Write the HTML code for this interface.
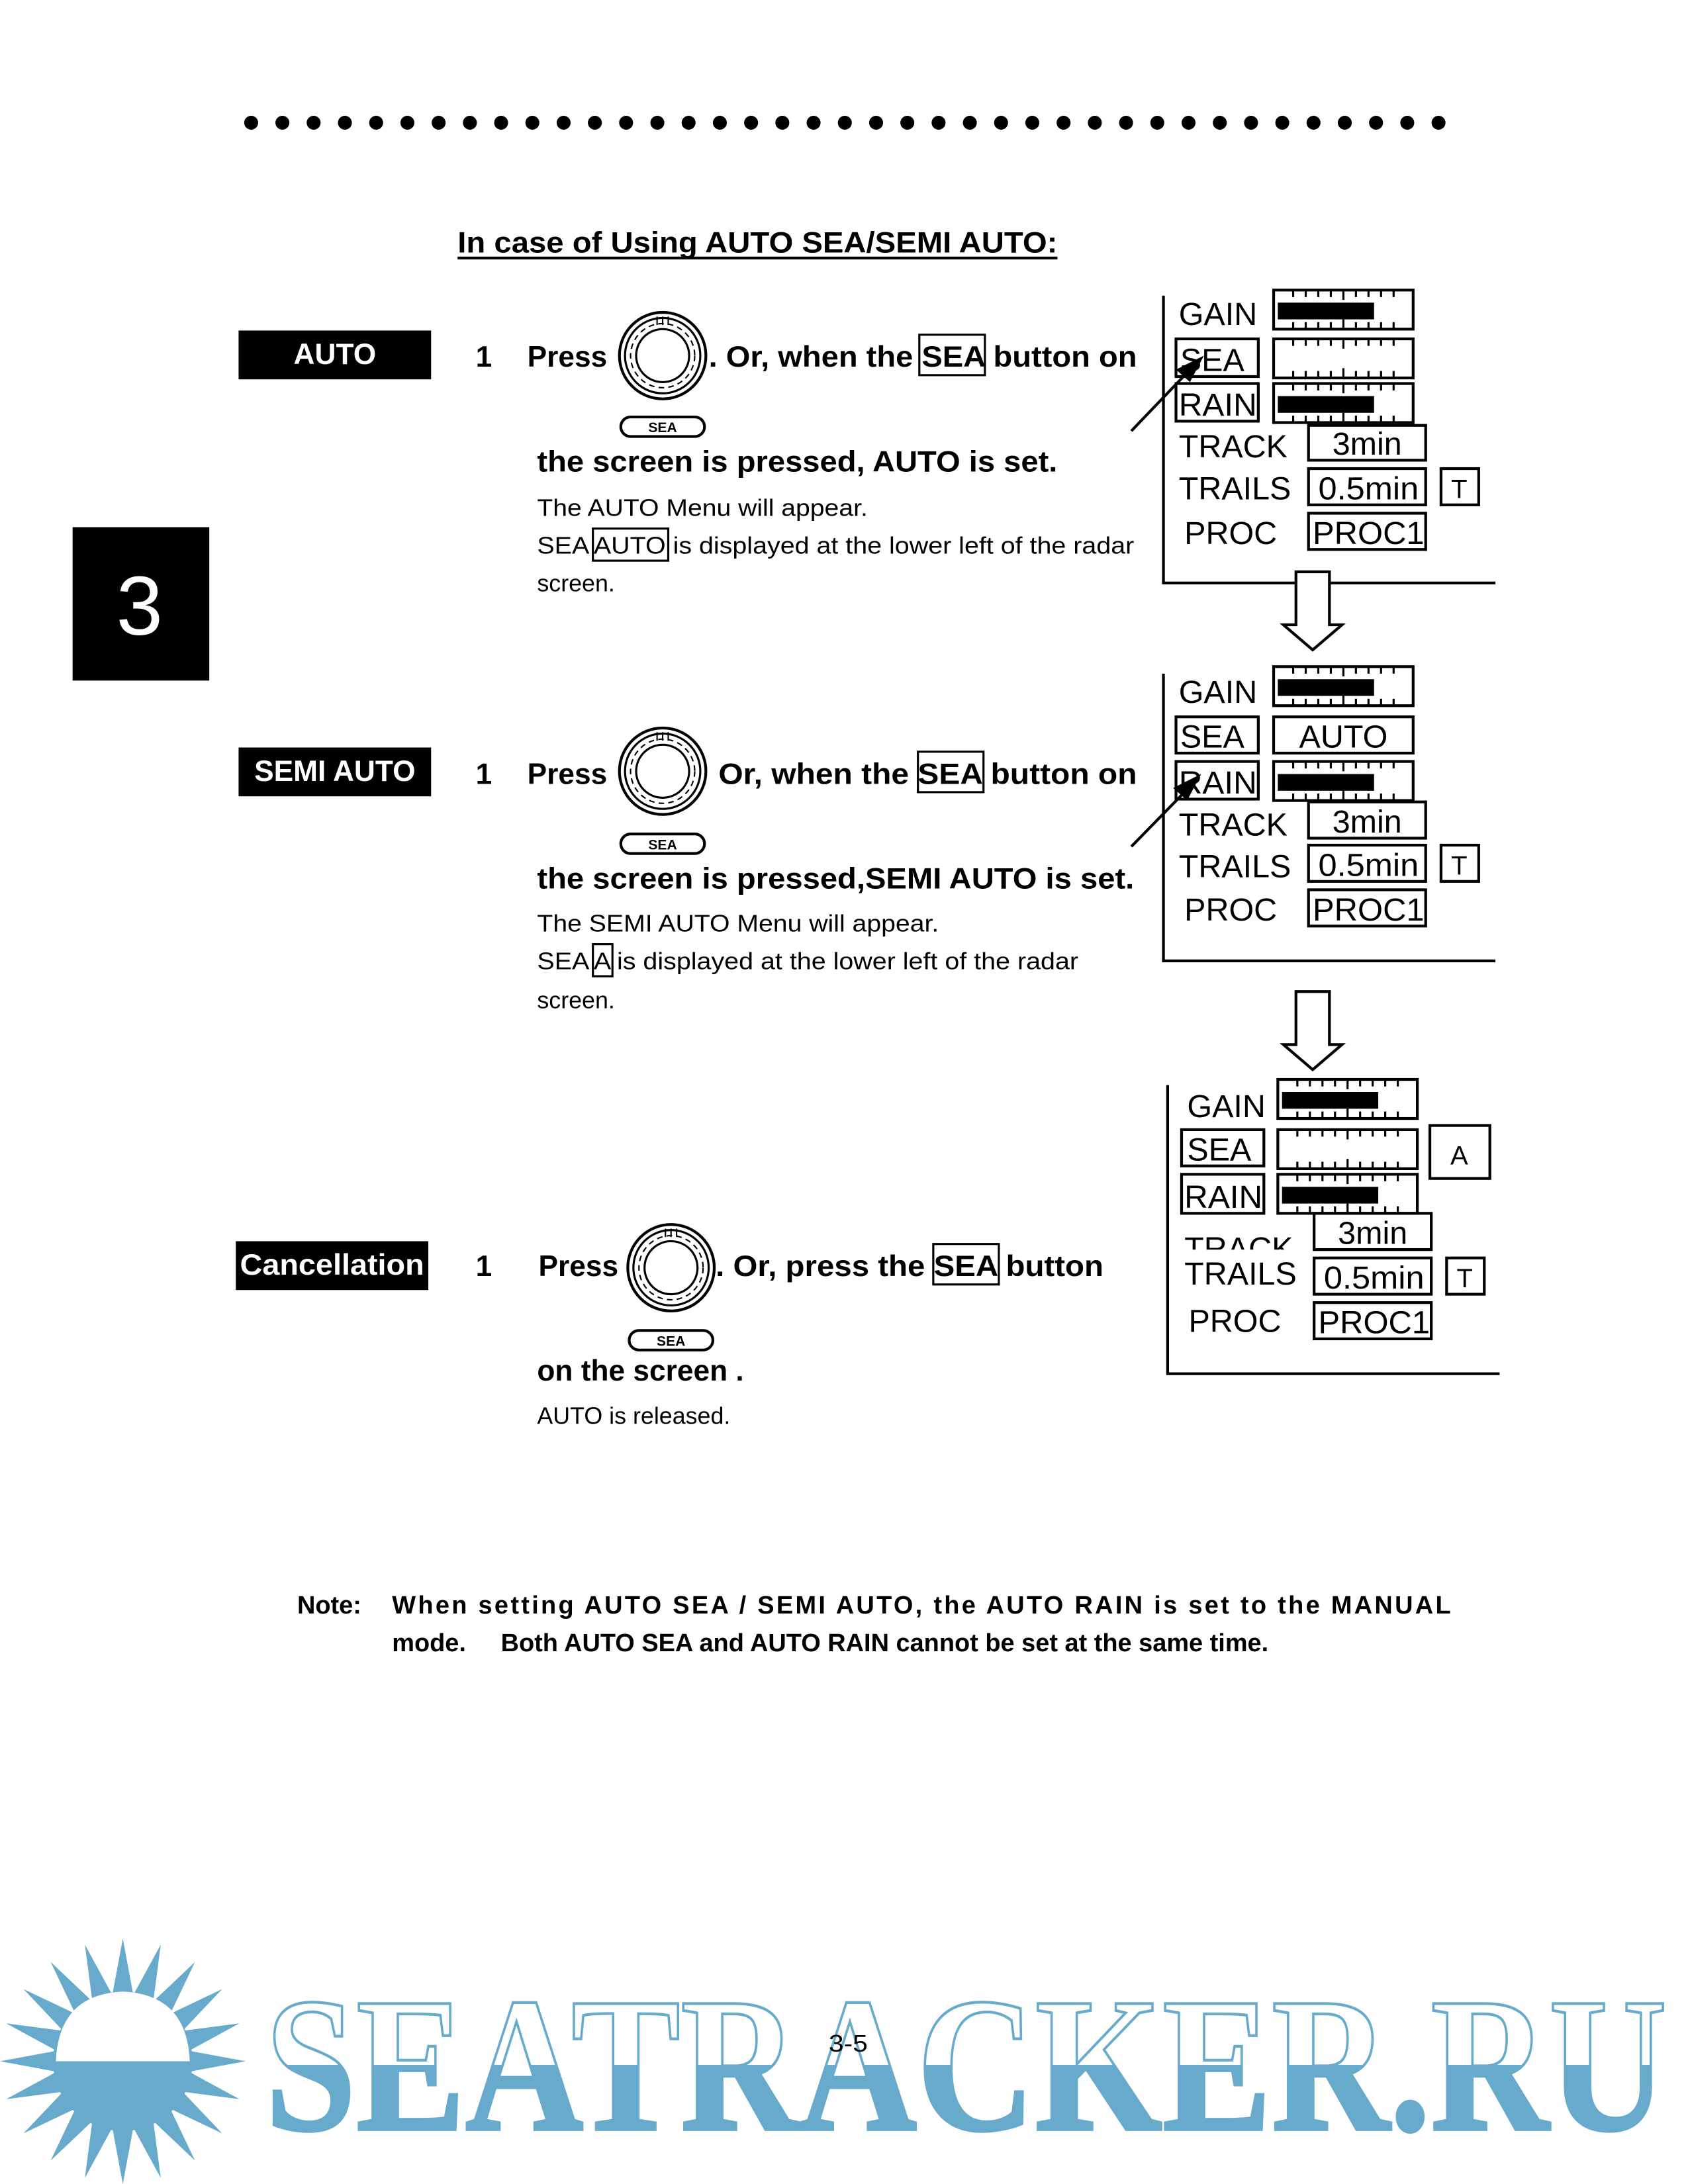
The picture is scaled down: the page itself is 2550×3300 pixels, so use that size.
<!DOCTYPE html>
<html><head><meta charset="utf-8"><style>
html,body{margin:0;padding:0;background:#fff}
svg{display:block}
text{font-family:"Liberation Sans",Arial,sans-serif}
.b{font-weight:bold}
</style></head><body>
<svg width="2550" height="3300" viewBox="0 0 1210 1566" xmlns="http://www.w3.org/2000/svg">
<defs>
 <g id="ticks" stroke="#000" stroke-width="1.5">
  <path d="M9 0v5M18 0v5M27 0v5M36 0v5M45 0v7M54 0v5M63 0v5M72 0v5M81 0v5"/>
 </g>
 <g id="bar">
  <rect x="0" y="0" width="100" height="28" fill="#fff" stroke="#000" stroke-width="2"/>
  <use href="#ticks" x="5" y="0"/>
  <use href="#ticks" x="5" y="28" transform="translate(0,56) scale(1,-1)"/>
 </g>
 <g id="barf">
  <use href="#bar"/>
  <rect x="3" y="9" width="69" height="12" fill="#000"/>
 </g>
 <g id="knob" fill="none" stroke="#000">
  <circle r="31" stroke-width="2"/>
  <circle r="27" stroke-width="1.5"/>
  <circle r="23" stroke-width="1" stroke-dasharray="4 3"/>
  <circle r="19" stroke-width="1.5"/>
  <path d="M-4 -28v6M0 -28v6M4 -28v6" stroke-width="1"/>
 </g>
 <g id="pill">
  <rect x="0" y="0" width="60" height="14" rx="7" fill="#fff" stroke="#000" stroke-width="2"/>
  <text x="30" y="11" font-size="10" text-anchor="middle" class="b">SEA</text>
 </g>
 <g id="down">
  <path d="M929 0H953V38H962L941 56L920 38H929Z" fill="#fff" stroke="#000" stroke-width="2"/>
 </g>
 <polygon id="spk" points="-8,-45 0,-88 8,-45" fill="#67aacb"/>
 <linearGradient id="wg" x1="0" y1="0" x2="0" y2="1">
  <stop offset="0.5" stop-color="#fff"/><stop offset="0.5" stop-color="#67aacb"/>
 </linearGradient>
</defs>

<!-- dots -->
<g fill="#000">
 <circle cx="180" cy="88" r="5"/><circle cx="202.4" cy="88" r="5"/><circle cx="224.8" cy="88" r="5"/><circle cx="247.2" cy="88" r="5"/><circle cx="269.6" cy="88" r="5"/><circle cx="292" cy="88" r="5"/><circle cx="314.4" cy="88" r="5"/><circle cx="336.8" cy="88" r="5"/><circle cx="359.2" cy="88" r="5"/><circle cx="381.6" cy="88" r="5"/><circle cx="404" cy="88" r="5"/><circle cx="426.4" cy="88" r="5"/><circle cx="448.8" cy="88" r="5"/><circle cx="471.2" cy="88" r="5"/><circle cx="493.6" cy="88" r="5"/><circle cx="516" cy="88" r="5"/><circle cx="538.4" cy="88" r="5"/><circle cx="560.8" cy="88" r="5"/><circle cx="583.2" cy="88" r="5"/><circle cx="605.6" cy="88" r="5"/><circle cx="628" cy="88" r="5"/><circle cx="650.4" cy="88" r="5"/><circle cx="672.8" cy="88" r="5"/><circle cx="695.2" cy="88" r="5"/><circle cx="717.6" cy="88" r="5"/><circle cx="740" cy="88" r="5"/><circle cx="762.4" cy="88" r="5"/><circle cx="784.8" cy="88" r="5"/><circle cx="807.2" cy="88" r="5"/><circle cx="829.6" cy="88" r="5"/><circle cx="852" cy="88" r="5"/><circle cx="874.4" cy="88" r="5"/><circle cx="896.8" cy="88" r="5"/><circle cx="919.2" cy="88" r="5"/><circle cx="941.6" cy="88" r="5"/><circle cx="964" cy="88" r="5"/><circle cx="986.4" cy="88" r="5"/><circle cx="1008.8" cy="88" r="5"/><circle cx="1031.2" cy="88" r="5"/>
</g>

<text x="328" y="181" font-size="21" class="b" textLength="430" lengthAdjust="spacingAndGlyphs">In case of Using AUTO SEA/SEMI AUTO:</text>
<rect x="328" y="184" width="430" height="2" fill="#000"/>

<rect x="52" y="378" width="98" height="110" fill="#000"/>
<text x="100" y="455" font-size="60" fill="#fff" text-anchor="middle">3</text>

<!-- AUTO section -->
<rect x="171" y="237" width="138" height="35" fill="#000"/>
<text x="240" y="261" font-size="21" class="b" fill="#fff" text-anchor="middle">AUTO</text>
<text x="341" y="263" font-size="21" class="b">1</text>
<text x="378" y="263" font-size="21" class="b">Press</text>
<use href="#knob" x="475" y="255"/>
<text x="508" y="263" font-size="21" class="b" textLength="307" lengthAdjust="spacingAndGlyphs">. Or, when the SEA button on</text>
<rect x="659" y="240" width="47" height="29" fill="none" stroke="#000" stroke-width="1.5"/>
<use href="#pill" x="445" y="299"/>
<text x="385" y="338" font-size="21" class="b" textLength="373" lengthAdjust="spacingAndGlyphs">the screen is pressed, AUTO is set.</text>
<text x="385" y="370" font-size="17" textLength="237" lengthAdjust="spacingAndGlyphs">The AUTO Menu will appear.</text>
<text x="385" y="397" font-size="17" textLength="428" lengthAdjust="spacingAndGlyphs">SEA AUTO is displayed at the lower left of the radar</text>
<rect x="425" y="379" width="54" height="23" fill="none" stroke="#000" stroke-width="1.5"/>
<text x="385" y="424" font-size="17">screen.</text>

<!-- Panel 1 -->
<g>
 <path d="M834 212V418H1072" fill="none" stroke="#000" stroke-width="2"/>
 <text x="845" y="233" font-size="23">GAIN</text>
 <use href="#barf" x="913" y="208"/>
 <rect x="843" y="243" width="59" height="27" fill="none" stroke="#000" stroke-width="2"/>
 <text x="846" y="266" font-size="23">SEA</text>
 <use href="#bar" x="913" y="243"/>
 <rect x="843" y="275" width="59" height="27" fill="none" stroke="#000" stroke-width="2"/>
 <text x="845" y="298" font-size="23" textLength="56" lengthAdjust="spacingAndGlyphs">RAIN</text>
 <use href="#barf" x="913" y="275"/>
 <text x="845" y="328" font-size="23">TRACK</text>
 <rect x="938" y="305" width="84" height="25" fill="none" stroke="#000" stroke-width="2"/>
 <text x="980" y="326" font-size="23" text-anchor="middle">3min</text>
 <text x="845" y="358" font-size="23">TRAILS</text>
 <rect x="938" y="336" width="84" height="26" fill="none" stroke="#000" stroke-width="2"/>
 <text x="981" y="358" font-size="23" text-anchor="middle" textLength="72" lengthAdjust="spacingAndGlyphs">0.5min</text>
 <rect x="1033" y="336" width="27" height="26" fill="none" stroke="#000" stroke-width="2"/>
 <text x="1046" y="357" font-size="19" text-anchor="middle">T</text>
 <text x="849" y="390" font-size="23">PROC</text>
 <rect x="938" y="368" width="84" height="26" fill="none" stroke="#000" stroke-width="2"/>
 <text x="981" y="390" font-size="23" text-anchor="middle" textLength="80" lengthAdjust="spacingAndGlyphs">PROC1</text>
 <line x1="811" y1="309" x2="855" y2="263" stroke="#000" stroke-width="2"/>
 <path d="M863 255L843 265L853 274Z" fill="#000"/>
</g>
<use href="#down" x="0" y="410"/>

<!-- SEMI AUTO section -->
<rect x="171" y="536" width="138" height="35" fill="#000"/>
<text x="240" y="560" font-size="21" class="b" fill="#fff" text-anchor="middle">SEMI AUTO</text>
<text x="341" y="562" font-size="21" class="b">1</text>
<text x="378" y="562" font-size="21" class="b">Press</text>
<use href="#knob" x="475" y="553"/>
<text x="515" y="562" font-size="21" class="b" textLength="300" lengthAdjust="spacingAndGlyphs">Or, when the SEA button on</text>
<rect x="658" y="539" width="47" height="29" fill="none" stroke="#000" stroke-width="1.5"/>
<use href="#pill" x="445" y="598"/>
<text x="385" y="637" font-size="21" class="b" textLength="428" lengthAdjust="spacingAndGlyphs">the screen is pressed,SEMI AUTO is set.</text>
<text x="385" y="668" font-size="17" textLength="288" lengthAdjust="spacingAndGlyphs">The SEMI AUTO Menu will appear.</text>
<text x="385" y="695" font-size="17" textLength="388" lengthAdjust="spacingAndGlyphs">SEA A is displayed at the lower left of the radar</text>
<rect x="425" y="677" width="14" height="23" fill="none" stroke="#000" stroke-width="1.5"/>
<text x="385" y="723" font-size="17">screen.</text>

<!-- Panel 2 -->
<g>
 <path d="M834 483V689H1072" fill="none" stroke="#000" stroke-width="2"/>
 <text x="845" y="504" font-size="23">GAIN</text>
 <use href="#barf" x="913" y="478"/>
 <rect x="843" y="514" width="59" height="26" fill="none" stroke="#000" stroke-width="2"/>
 <text x="846" y="536" font-size="23">SEA</text>
 <rect x="913" y="514" width="100" height="26" fill="none" stroke="#000" stroke-width="2"/>
 <text x="963" y="536" font-size="23" text-anchor="middle">AUTO</text>
 <rect x="843" y="546" width="59" height="27" fill="none" stroke="#000" stroke-width="2"/>
 <text x="845" y="569" font-size="23" textLength="56" lengthAdjust="spacingAndGlyphs">RAIN</text>
 <use href="#barf" x="913" y="546"/>
 <text x="845" y="599" font-size="23">TRACK</text>
 <rect x="938" y="575" width="84" height="26" fill="none" stroke="#000" stroke-width="2"/>
 <text x="980" y="597" font-size="23" text-anchor="middle">3min</text>
 <text x="845" y="629" font-size="23">TRAILS</text>
 <rect x="938" y="606" width="84" height="26" fill="none" stroke="#000" stroke-width="2"/>
 <text x="981" y="628" font-size="23" text-anchor="middle" textLength="72" lengthAdjust="spacingAndGlyphs">0.5min</text>
 <rect x="1033" y="606" width="27" height="26" fill="none" stroke="#000" stroke-width="2"/>
 <text x="1046" y="627" font-size="19" text-anchor="middle">T</text>
 <text x="849" y="660" font-size="23">PROC</text>
 <rect x="938" y="638" width="84" height="26" fill="none" stroke="#000" stroke-width="2"/>
 <text x="981" y="660" font-size="23" text-anchor="middle" textLength="80" lengthAdjust="spacingAndGlyphs">PROC1</text>
 <line x1="811" y1="607" x2="853" y2="564" stroke="#000" stroke-width="2"/>
 <path d="M861 555L841 565L851 574Z" fill="#000"/>
</g>
<use href="#down" x="0" y="711"/>

<!-- Panel 3 -->
<g>
 <path d="M837 778V985H1075" fill="none" stroke="#000" stroke-width="2"/>
 <text x="851" y="801" font-size="23">GAIN</text>
 <use href="#barf" x="916" y="774"/>
 <rect x="847" y="810" width="59" height="26" fill="none" stroke="#000" stroke-width="2"/>
 <text x="851" y="832" font-size="23">SEA</text>
 <use href="#bar" x="916" y="810"/>
 <rect x="1025" y="807" width="43" height="38" fill="none" stroke="#000" stroke-width="2"/>
 <text x="1046" y="835" font-size="19" text-anchor="middle">A</text>
 <rect x="847" y="842" width="59" height="28" fill="none" stroke="#000" stroke-width="2"/>
 <text x="849" y="866" font-size="23" textLength="56" lengthAdjust="spacingAndGlyphs">RAIN</text>
 <use href="#barf" x="916" y="842"/>
 <svg x="845" y="872" width="90" height="24" overflow="hidden"><text x="4" y="31" font-size="23">TRACK</text></svg>
 <rect x="942" y="870" width="84" height="26" fill="none" stroke="#000" stroke-width="2"/>
 <text x="984" y="892" font-size="23" text-anchor="middle">3min</text>
 <text x="849" y="921" font-size="23">TRAILS</text>
 <rect x="942" y="902" width="84" height="26" fill="none" stroke="#000" stroke-width="2"/>
 <text x="985" y="924" font-size="23" text-anchor="middle" textLength="72" lengthAdjust="spacingAndGlyphs">0.5min</text>
 <rect x="1037" y="902" width="27" height="26" fill="none" stroke="#000" stroke-width="2"/>
 <text x="1050" y="923" font-size="19" text-anchor="middle">T</text>
 <text x="852" y="955" font-size="23">PROC</text>
 <rect x="942" y="934" width="84" height="26" fill="none" stroke="#000" stroke-width="2"/>
 <text x="985" y="956" font-size="23" text-anchor="middle" textLength="80" lengthAdjust="spacingAndGlyphs">PROC1</text>
</g>

<!-- Cancellation -->
<rect x="169" y="890" width="138" height="35" fill="#000"/>
<text x="238" y="914" font-size="21" class="b" fill="#fff" text-anchor="middle" textLength="132" lengthAdjust="spacingAndGlyphs">Cancellation</text>
<text x="341" y="915" font-size="21" class="b">1</text>
<text x="386" y="915" font-size="21" class="b">Press</text>
<use href="#knob" x="481" y="909"/>
<text x="513" y="915" font-size="21" class="b" textLength="278" lengthAdjust="spacingAndGlyphs">. Or, press the SEA button</text>
<rect x="669" y="892" width="47" height="29" fill="none" stroke="#000" stroke-width="1.5"/>
<use href="#pill" x="451" y="954"/>
<text x="385" y="990" font-size="21" class="b">on the screen .</text>
<text x="385" y="1021" font-size="17">AUTO is released.</text>

<!-- Note -->
<text x="213" y="1157" font-size="18" class="b">Note:</text>
<text x="281" y="1157" font-size="18" class="b" textLength="759" lengthAdjust="spacing">When setting AUTO SEA / SEMI AUTO, the AUTO RAIN is set to the MANUAL</text>
<text x="281" y="1184" font-size="18" class="b" xml:space="preserve">mode.     Both AUTO SEA and AUTO RAIN cannot be set at the same time.</text>

<!-- Watermark sun -->
<g transform="translate(88,1478)">
 <circle r="50" fill="#67aacb"/>
 <use href="#spk" transform="rotate(0)"/><use href="#spk" transform="rotate(18)"/><use href="#spk" transform="rotate(36)"/><use href="#spk" transform="rotate(54)"/><use href="#spk" transform="rotate(72)"/><use href="#spk" transform="rotate(90)"/><use href="#spk" transform="rotate(108)"/><use href="#spk" transform="rotate(126)"/><use href="#spk" transform="rotate(144)"/><use href="#spk" transform="rotate(162)"/><use href="#spk" transform="rotate(180)"/><use href="#spk" transform="rotate(198)"/><use href="#spk" transform="rotate(216)"/><use href="#spk" transform="rotate(234)"/><use href="#spk" transform="rotate(252)"/><use href="#spk" transform="rotate(270)"/><use href="#spk" transform="rotate(288)"/><use href="#spk" transform="rotate(306)"/><use href="#spk" transform="rotate(324)"/><use href="#spk" transform="rotate(342)"/>
 <path d="M-48 0 Q-46 -48 0 -50 Q46 -48 48 0 Z" fill="#fff"/>
</g>
<text x="190" y="1527" font-size="138" style="font-family:'Liberation Serif',serif;font-weight:bold" fill="url(#wg)" stroke="#67aacb" stroke-width="2" textLength="1005" lengthAdjust="spacingAndGlyphs">SEATRACKER.RU</text>

<text x="594" y="1471" font-size="17" textLength="28" lengthAdjust="spacingAndGlyphs">3-5</text>
</svg>
</body></html>
